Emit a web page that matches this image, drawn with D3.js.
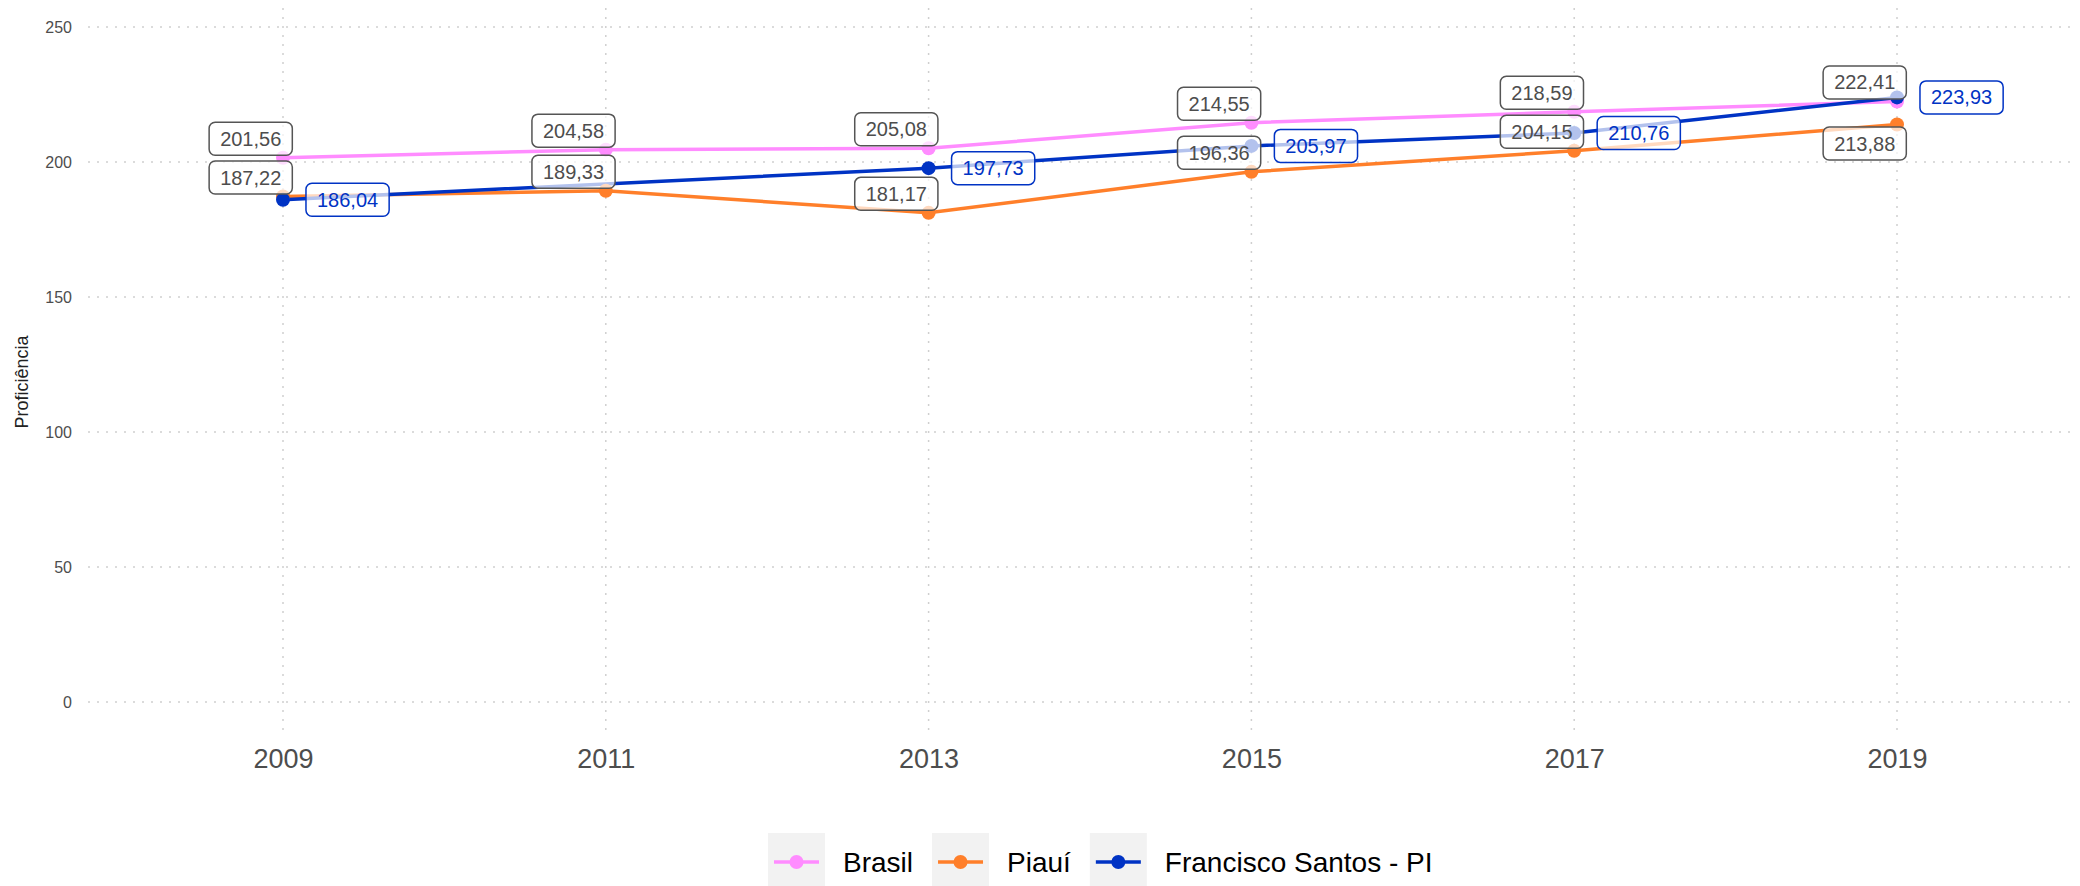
<!DOCTYPE html>
<html>
<head>
<meta charset="utf-8">
<script src="https://cdn.jsdelivr.net/npm/d3@7"></script>
<style>
	body { margin: 0; background: #ffffff; }
	svg { display: block; font-family: "Liberation Sans", Arial, Helvetica, sans-serif; }
</style>
</head>
<body>
<svg id="chart"></svg>
<script>
// Data.
var years = [2009, 2011, 2013, 2015, 2017, 2019];
var brasil = [201.56, 204.58, 205.08, 214.55, 218.59, 222.41];
var piaui = [187.22, 189.33, 181.17, 196.36, 204.15, 213.88];
var franciscoSantos = [186.04, null, 197.73, 205.97, 210.76, 223.93];
var yTicks = [0, 50, 100, 150, 200, 250];
var seriesNames = ["Brasil", "Piauí", "Francisco Santos - PI"];
var seriesColors = ["#ff8cff", "#ff7f2a", "#0033c4"];

// Definitions.
var width = 2080;
var height = 886;
var panelLeft = 88;
var panelRight = 2077;
var panelTop = 8;
var panelBottom = 735;
var labelGrey = "#4d4d4d";

var svg = d3.select("#chart")
	.attr("width", width)
	.attr("height", height);

var x = d3.scaleLinear().domain([2009, 2019]).range([283, 1897]);
var y = d3.scaleLinear().domain([0, 250]).range([702, 27]);

// Gridlines.
svg.append("g").selectAll("line")
	.data(yTicks)
	.enter()
	.append("line")
	.attr("x1", panelLeft)
	.attr("x2", panelRight)
	.attr("y1", function(d) { return y(d); })
	.attr("y2", function(d) { return y(d); })
	.attr("stroke", "#cfcfcf")
	.attr("stroke-width", 1.5)
	.attr("stroke-dasharray", "2,7");
svg.append("g").selectAll("line")
	.data(years)
	.enter()
	.append("line")
	.attr("x1", function(d) { return x(d); })
	.attr("x2", function(d) { return x(d); })
	.attr("y1", panelTop)
	.attr("y2", panelBottom)
	.attr("stroke", "#cfcfcf")
	.attr("stroke-width", 1.5)
	.attr("stroke-dasharray", "2,7");

// Axes (text only, as in the theme).
var yAxis = svg.append("g")
	.attr("transform", "translate(" + (panelLeft - 16) + ",0)")
	.call(d3.axisLeft(y).tickValues(yTicks).tickSize(0).tickPadding(0).tickFormat(d3.format("d")));
yAxis.select(".domain").remove();
yAxis.selectAll("text").attr("font-size", 16).attr("fill", labelGrey).attr("font-family", "Liberation Sans, Arial, sans-serif");

var xAxis = svg.append("g")
	.attr("transform", "translate(0," + (panelBottom + 14) + ")")
	.call(d3.axisBottom(x).tickValues(years).tickSize(0).tickPadding(0).tickFormat(d3.format("d")));
xAxis.select(".domain").remove();
xAxis.selectAll("text").attr("font-size", 27).attr("fill", labelGrey).attr("font-family", "Liberation Sans, Arial, sans-serif");

svg.append("text")
	.attr("transform", "translate(28,382) rotate(-90)")
	.attr("text-anchor", "middle")
	.attr("font-size", 18)
	.attr("fill", "#222")
	.text("Proficiência");

// Build series.
var seriesValues = [brasil, piaui, franciscoSantos];
var series = seriesValues.map(function(vals, i)
{
	var pts = [];
	for (var j = 0; j < years.length; j++)
	{
		if (vals[j] !== null) pts.push({"year" : years[j], "value" : vals[j], "series" : i});
	}
	return pts;
});

var line = d3.line()
	.x(function(d) { return x(d.year); })
	.y(function(d) { return y(d.value); });

// Lines.
svg.append("g").selectAll("path")
	.data(series)
	.enter()
	.append("path")
	.attr("d", line)
	.attr("fill", "none")
	.attr("stroke", function(d, i) { return seriesColors[i]; })
	.attr("stroke-width", 3.5);

// Points.
svg.append("g").selectAll("g")
	.data(series)
	.enter()
	.append("g")
	.selectAll("circle")
	.data(function(d) { return d; })
	.enter()
	.append("circle")
	.attr("cx", function(d) { return x(d.year); })
	.attr("cy", function(d) { return y(d.value); })
	.attr("r", 7)
	.attr("fill", function(d) { return seriesColors[d.series]; });

// Labels.
var fmt = function(v) { return v.toFixed(2).replace(".", ","); };
var labelLayer = svg.append("g");
var boxH = 33;
var placed = [];

function overlaps(b)
{
	for (var k = 0; k < placed.length; k++)
	{
		var p = placed[k];
		if (b.x < p.x + p.w && b.x + b.w > p.x && b.y < p.y + p.h && b.y + b.h > p.y) return true;
	}
	return false;
}

function drawLabel(d, cx, cy, isLocal)
{
	var g = labelLayer.append("g");
	var t = g.append("text")
		.attr("x", cx)
		.attr("y", cy)
		.attr("text-anchor", "middle")
		.attr("dominant-baseline", "central")
		.attr("font-size", 20)
		.attr("fill", isLocal ? seriesColors[2] : labelGrey)
		.text(fmt(d.value));
	var w = t.node().getComputedTextLength() + 22;
	g.insert("rect", "text")
		.attr("x", cx - w / 2)
		.attr("y", cy - boxH / 2)
		.attr("width", w)
		.attr("height", boxH)
		.attr("rx", 6)
		.attr("ry", 6)
		.attr("fill", "rgba(255,255,255,0.7)")
		.attr("stroke", isLocal ? seriesColors[2] : "#555555")
		.attr("stroke-width", 1.5);
}

// Brasil and Piauí: above-left of the point, below if the space is taken.
[0, 1].forEach(function(s)
{
	series[s].forEach(function(d)
	{
		var cx = x(d.year - 0.2);
		var w = 84;
		var cy = y(d.value) - 19;
		var box = {"x" : cx - w / 2, "y" : cy - boxH / 2, "w" : w, "h" : boxH};
		if (overlaps(box))
		{
			cy = y(d.value) + 19;
			box.y = cy - boxH / 2;
		}
		placed.push(box);
		drawLabel(d, cx, cy, false);
	});
});

// Francisco Santos: to the right of the point.
series[2].forEach(function(d)
{
	drawLabel(d, x(d.year + 0.4), y(d.value), true);
});

// Legend.
var legend = svg.append("g");
var legendX = 768;
var legendY = 833;
var keySize = 57;
seriesNames.forEach(function(name, i)
{
	var item = legend.append("g").attr("transform", "translate(" + legendX + "," + legendY + ")");
	item.append("rect")
		.attr("width", keySize)
		.attr("height", keySize)
		.attr("fill", "#f2f2f2");
	item.append("line")
		.attr("x1", 6)
		.attr("x2", keySize - 6)
		.attr("y1", 29)
		.attr("y2", 29)
		.attr("stroke", seriesColors[i])
		.attr("stroke-width", 3.5);
	item.append("circle")
		.attr("cx", keySize / 2)
		.attr("cy", 29)
		.attr("r", 7)
		.attr("fill", seriesColors[i]);
	var txt = item.append("text")
		.attr("x", keySize + 18)
		.attr("y", 29)
		.attr("dominant-baseline", "central")
		.attr("font-size", 28)
		.attr("fill", "#000")
		.text(name);
	legendX += keySize + 18 + txt.node().getComputedTextLength() + 19;
});
</script>
</body>
</html>
